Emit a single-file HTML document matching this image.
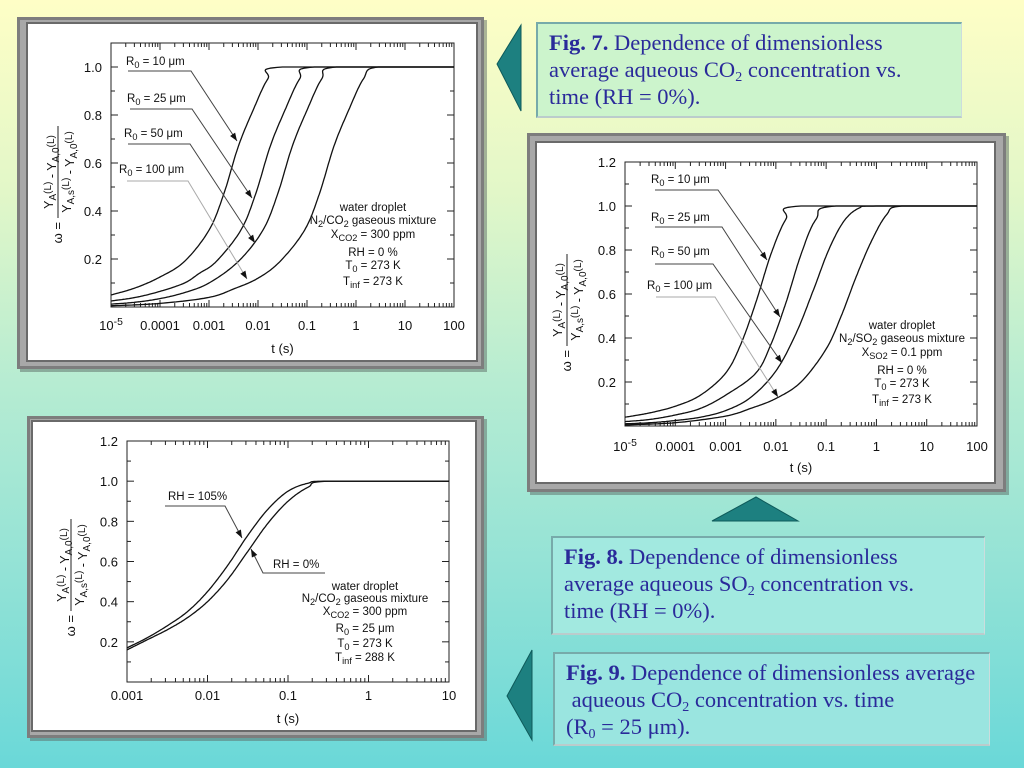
<!DOCTYPE html>
<html><head><meta charset="utf-8">
<style>
html,body{margin:0;padding:0;}
body{width:1024px;height:768px;overflow:hidden;position:relative;
background:linear-gradient(to bottom,#fefec6 0%,#e2f7c8 25%,#b6ecd2 50%,#92e2d6 75%,#6ad8d8 100%);
font-family:"Liberation Sans",sans-serif;}
.box{position:absolute;font-family:"Liberation Serif",serif;font-size:22.5px;line-height:27px;color:#2a2a9a;padding:5px 0 0 11px;box-sizing:border-box;white-space:nowrap;
border-top:2px solid #7aa;border-left:2px solid #7aa;border-right:1px solid #cdd;border-bottom:2px solid #bcc;}
.box b{font-weight:bold;}
sub{font-size:14px;vertical-align:-4px;line-height:0;}
svg{position:absolute;left:0;top:0;}
</style></head>
<body>
<div class="box" style="left:536px;top:22px;width:426px;height:96px;background:#ccf4cc;"><b>Fig. 7.</b> Dependence of dimensionless<br>average aqueous CO<sub>2</sub> concentration vs.<br>time (RH = 0%).</div>
<div class="box" style="left:551px;top:536px;width:434px;height:99px;background:#a2e9e0;"><b>Fig. 8.</b> Dependence of dimensionless<br>average aqueous SO<sub>2</sub> concentration vs.<br>time (RH = 0%).</div>
<div class="box" style="left:553px;top:652px;width:437px;height:94px;background:#9ae5e0;"><b>Fig. 9.</b> Dependence of dimensionless average<br>&nbsp;aqueous CO<sub>2</sub> concentration vs. time<br>(R<sub>0</sub> = 25 μm).</div>

<svg id="s" width="1024" height="768" xmlns="http://www.w3.org/2000/svg">
<polygon points="521,25 521,111 497,64" fill="#1d8080" stroke="#0e5a5a" stroke-width="1"/>
<polygon points="712,521 798,521 756,497" fill="#1d8080" stroke="#0e5a5a" stroke-width="1"/>
<polygon points="532,650 532,740 507,696" fill="#1d8080" stroke="#0e5a5a" stroke-width="1"/>
</svg>

<script>
// ---- Chart 1 data (Fig. 7, CO2) : log10(t) and omega ----
const c1_r10_logt=[-5,-4.5,-4,-3.5,-3,-2.7,-2.4,-2.1,-1.8,-1.5,2];
const c1_r10_val=[0.05,0.08,0.125,0.19,0.32,0.47,0.67,0.82,0.95,1,1];
const c1_r25_logt=[-5,-4.5,-4,-3.5,-3.2,-2.85,-2.35,-2.05,-1.75,-1.45,-1.15,-0.85,2];
const c1_r25_val=[0.025,0.04,0.065,0.1,0.14,0.19,0.32,0.47,0.67,0.82,0.95,1,1];
const c1_r50_logt=[-5,-4.5,-4,-3.5,-3,-2.4,-1.9,-1.6,-1.3,-1,-0.7,-0.4,2];
const c1_r50_val=[0.012,0.02,0.035,0.06,0.1,0.19,0.32,0.47,0.67,0.82,0.95,1,1];
const c1_r100_logt=[-5,-4,-3,-2.5,-2,-1.55,-1.05,-0.75,-0.45,-0.15,0.15,0.45,2];
const c1_r100_val=[0.005,0.015,0.04,0.075,0.12,0.19,0.32,0.47,0.67,0.82,0.95,1,1];
// ---- Chart 2 data (Fig. 8, SO2) ----
const c2_r10_logt=[-5,-4.5,-4,-3.5,-3,-2.7,-2.4,-2.1,-1.8,-1.5,2];
const c2_r10_val=[0.04,0.06,0.09,0.14,0.24,0.37,0.56,0.78,0.94,1,1];
const c2_r25_logt=[-5,-4.5,-4,-3.5,-3,-2.4,-2.1,-1.8,-1.5,-1.2,-0.8,2];
const c2_r25_val=[0.02,0.03,0.05,0.08,0.14,0.24,0.37,0.56,0.78,0.94,1,1];
const c2_r50_logt=[-5,-4.5,-4,-3.5,-3,-2.5,-2,-1.6,-1.25,-0.95,-0.65,-0.35,0,2];
const c2_r50_val=[0.01,0.015,0.025,0.04,0.07,0.13,0.25,0.42,0.62,0.8,0.93,0.99,1,1];
const c2_r100_logt=[-5,-4,-3,-2.5,-2,-1.5,-1,-0.7,-0.4,-0.1,0.2,0.5,2];
const c2_r100_val=[0.005,0.015,0.045,0.08,0.125,0.2,0.35,0.5,0.68,0.84,0.96,1,1];
// ---- Chart 3 data (Fig. 9, RH) ----
const c3_rh105_logt=[-3,-2.75,-2.5,-2.25,-2,-1.75,-1.5,-1.25,-1,-0.75,-0.5,1];
const c3_rh105_val=[0.17,0.22,0.28,0.35,0.45,0.58,0.73,0.86,0.95,0.99,1,1];
const c3_rh0_logt=[-3,-2.75,-2.5,-2.25,-2,-1.75,-1.5,-1.25,-1,-0.75,-0.5,1];
const c3_rh0_val=[0.16,0.21,0.26,0.32,0.40,0.51,0.65,0.79,0.9,0.97,1,1];
// ---- tick labels ----
const c12_xticks=[-5,-4,-3,-2,-1,0,1,2];
const c12_xlabels=["10","0.0001","0.001","0.01","0.1","1","10","100"];
const c3_xticks=[-3,-2,-1,0,1];
const c3_xlabels=["0.001","0.01","0.1","1","10"];
const c1_yticks=[0.2,0.4,0.6,0.8,1.0];
const c23_yticks=[0.2,0.4,0.6,0.8,1.0,1.2];

const S=document.getElementById('s');
const NS='http://www.w3.org/2000/svg';
function mk(tag,attrs,parent){const e=document.createElementNS(NS,tag);for(const k in attrs)e.setAttribute(k,attrs[k]);(parent||S).appendChild(e);return e;}

function smoothPath(xs,ys,sx,sy){
  const n=xs.length;const pts=[];
  const P=i=>[xs[Math.max(0,Math.min(n-1,i))],ys[Math.max(0,Math.min(n-1,i))]];
  let ymax=-1e9;
  for(let i=0;i<n-1;i++){
    const p0=P(i-1),p1=P(i),p2=P(i+1),p3=P(i+2);
    for(let k=0;k<16;k++){const t=k/16,t2=t*t,t3=t2*t;
      const f=(a,b,c,d)=>0.5*((2*b)+(-a+c)*t+(2*a-5*b+4*c-d)*t2+(-a+3*b-3*c+d)*t3);
      const x=f(p0[0],p1[0],p2[0],p3[0]);let y=f(p0[1],p1[1],p2[1],p3[1]);
      y=Math.min(y,1);ymax=Math.max(ymax,y);y=ymax;
      pts.push(sx(x).toFixed(1)+','+sy(y).toFixed(1));}
  }
  pts.push(sx(xs[n-1]).toFixed(1)+','+sy(Math.min(1,Math.max(ymax,ys[n-1]))).toFixed(1));
  return 'M'+pts.join(' L');
}

function frame(name,ox,oy,ow,oh,wx,wy,ww,wh){
  const g=mk('g',{});
  
  
  mk('rect',{x:ox+3,y:oy+3,width:ow,height:oh,fill:'#5c6b66',opacity:0.5},g);
  mk('rect',{x:ox,y:oy,width:ow,height:oh,fill:'#7d7d7d'},g);
  mk('rect',{x:ox+3,y:oy+3,width:ow-6,height:oh-6,fill:'#a8a8a8'},g);
  mk('rect',{x:wx-2,y:wy-2,width:ww+4,height:wh+4,fill:'#6a6a6a'},g);
  mk('rect',{x:wx,y:wy,width:ww,height:wh,fill:'#ffffff'},g);
}

function txt(x,y,s,attrs,parent){const t=mk('text',Object.assign({x:x,y:y,'font-size':13,fill:'#111','font-family':'Liberation Sans, sans-serif'},attrs||{}),parent);t.textContent=s;return t;}

function richText(parent,x,y,parts,anchor,fs){
  const t=mk('text',{x:x,y:y,'font-size':fs||11,fill:'#111','text-anchor':anchor||'middle','font-family':'Liberation Sans, sans-serif'},parent);
  parts.forEach(p=>{const ts=mk('tspan',{},t);
    if(p[1]==='sub'){ts.setAttribute('dy',3);ts.setAttribute('font-size',(fs||11)*0.8);}
    else if(p[1]==='sup'){ts.setAttribute('dy',-5);ts.setAttribute('font-size',(fs||11)*0.8);}
    else if(p[1]==='back'){ts.setAttribute('dy',-3);}
    else if(p[1]==='down'){ts.setAttribute('dy',5);}
    ts.textContent=p[0];});
  return t;
}

function chart(cfg){
  const g=mk('g',{});
  
  
  const sx=l=>cfg.L+(l-cfg.lmin)*(cfg.R-cfg.L)/(cfg.lmax-cfg.lmin);
  const sy=v=>cfg.B-(v-cfg.vmin)*(cfg.B-cfg.T)/(cfg.vmax-cfg.vmin);
  const box=mk('rect',{x:cfg.L,y:cfg.T,width:cfg.R-cfg.L,height:cfg.B-cfg.T,fill:'none',stroke:'#222','stroke-width':1},g);
  
  
  for(let dcd=cfg.lmin;dcd<=cfg.lmax;dcd++){
    const x=sx(dcd);
    mk('line',{x1:x,y1:cfg.B,x2:x,y2:cfg.B-7,stroke:'#222'},g);
    mk('line',{x1:x,y1:cfg.T,x2:x,y2:cfg.T+7,stroke:'#222'},g);
    if(dcd<cfg.lmax)for(let k=2;k<=9;k++){const xm=sx(dcd+Math.log10(k));
      mk('line',{x1:xm,y1:cfg.B,x2:xm,y2:cfg.B-4,stroke:'#222'},g);
      mk('line',{x1:xm,y1:cfg.T,x2:xm,y2:cfg.T+4,stroke:'#222'},g);}
  }
  cfg.xticks.forEach((l,i)=>{
    const lab=cfg.xlabels[i];
    let t;
    if(lab==='10'&&l===-5){t=richText(g,sx(l),cfg.xlabY,[['10',''],['-5','sup']],'middle',13);}
    else t=txt(sx(l),cfg.xlabY,lab,{'text-anchor':'middle'},g);
    
    
  });
  for(let v=cfg.vmin+0.1;v<cfg.vmax+0.001;v+=0.1){
    const y=sy(v);const major=Math.abs(Math.round(v*10)%2)===0;
    const len=major?7:4;
    mk('line',{x1:cfg.L,y1:y,x2:cfg.L+len,y2:y,stroke:'#222'},g);
    mk('line',{x1:cfg.R,y1:y,x2:cfg.R-len,y2:y,stroke:'#222'},g);
  }
  cfg.yticks.forEach(v=>{const t=txt(cfg.L-9,sy(v)+5,v.toFixed(1),{'text-anchor':'end'},g);
    
    });
  const xt=txt((cfg.L+cfg.R)/2,cfg.xtitleY,'t (s)',{'text-anchor':'middle'},g);
  
  
  const yg=mk('g',{transform:'translate('+cfg.ytx+','+cfg.yty+') rotate(-90)'},g);
  
  
  richText(yg,0,-5,[['Y',''],['A','sub'],['(L)','sup'],[' - Y','down'],['A,0','sub'],['(L)','sup']],'middle',12.5);
  mk('line',{x1:-46,y1:0,x2:46,y2:0,stroke:'#222'},yg);
  richText(yg,0,13,[['Y',''],['A,s','sub'],['(L)','sup'],[' - Y','down'],['A,0','sub'],['(L)','sup']],'middle',12.5);
  txt(-50,4,'ω =',{'text-anchor':'end'},yg);
  cfg.series.forEach(s=>{
    const p=mk('path',{d:smoothPath(s.x,s.y,sx,sy),fill:'none',stroke:'#111','stroke-width':1.3,'stroke-linejoin':'round'},g);
    
    
  });
  cfg.ann.forEach(a=>{
    const ag=mk('g',{},g);
    
    
    richText(ag,a.tx,a.ty,a.parts,'start',11.5);
    const col=a.col||'#444';
    mk('polyline',{points:a.line.map(p=>p.join(',')).join(' '),fill:'none',stroke:col,'stroke-width':1},ag);
    const p1=a.line[a.line.length-2],p2=a.line[a.line.length-1];
    const ang=Math.atan2(p2[1]-p1[1],p2[0]-p1[0]);
    const L=8,W=3;
    const bx=p2[0]-L*Math.cos(ang),by=p2[1]-L*Math.sin(ang);
    mk('polygon',{points:[p2,[bx-W*Math.sin(ang),by+W*Math.cos(ang)],[bx+W*Math.sin(ang),by-W*Math.cos(ang)]].map(p=>p.join(',')).join(' '),fill:'#111'},ag);
  });
  const lg=mk('g',{},g);
  
  
  cfg.legend.forEach(l=>richText(lg,cfg.legX,l[0],l[1],'middle',11.5));
}

frame('fig7-chart-frame',17,17,467,352,28,24,448,336);
frame('fig8-chart-frame',527,133,479,359,537,143,457,339);
frame('fig9-chart-frame',27,416,457,322,33,422,442,308);

const R0=n=>[['R',''],['0','sub'],[' = '+n+' μm','back']];
chart({name:'fig7-chart',L:111,R:454,T:43,B:307,lmin:-5,lmax:2,vmin:0,vmax:1.1,
  xticks:c12_xticks,xlabels:c12_xlabels,yticks:c1_yticks,xlabY:330,xtitleY:353,ytx:58,yty:172,
  series:[{name:'series-r0-10um',x:c1_r10_logt,y:c1_r10_val},{name:'series-r0-25um',x:c1_r25_logt,y:c1_r25_val},
          {name:'series-r0-50um',x:c1_r50_logt,y:c1_r50_val},{name:'series-r0-100um',x:c1_r100_logt,y:c1_r100_val}],
  ann:[{name:'label-r0-10um',tx:126,ty:65,parts:R0(10),line:[[128,71],[191,71],[237,141]]},
       {name:'label-r0-25um',tx:127,ty:102,parts:R0(25),line:[[130,109],[192,109],[252,198]]},
       {name:'label-r0-50um',tx:124,ty:137,parts:R0(50),line:[[128,144],[190,144],[255,243]]},
       {name:'label-r0-100um',tx:119,ty:173,parts:R0(100),line:[[127,181],[188,181],[247,279]],col:'#aaa'}],
  legX:373,
  legend:[[211,[['water droplet','']]],[224,[['N',''],['2','sub'],['/CO','back'],['2','sub'],[' gaseous mixture','back']]],
          [238,[['X',''],['CO2','sub'],[' = 300 ppm','back']]],[256,[['RH = 0 %','']]],
          [269,[['T',''],['0','sub'],[' = 273 K','back']]],[285,[['T',''],['inf','sub'],[' = 273 K','back']]]]
});
chart({name:'fig8-chart',L:625,R:977,T:162,B:426,lmin:-5,lmax:2,vmin:0,vmax:1.2,
  xticks:c12_xticks,xlabels:c12_xlabels,yticks:c23_yticks,xlabY:451,xtitleY:472,ytx:567,yty:300,
  series:[{name:'series-r0-10um',x:c2_r10_logt,y:c2_r10_val},{name:'series-r0-25um',x:c2_r25_logt,y:c2_r25_val},
          {name:'series-r0-50um',x:c2_r50_logt,y:c2_r50_val},{name:'series-r0-100um',x:c2_r100_logt,y:c2_r100_val}],
  ann:[{name:'label-r0-10um',tx:651,ty:183,parts:R0(10),line:[[655,190],[718,190],[767,260]]},
       {name:'label-r0-25um',tx:651,ty:221,parts:R0(25),line:[[655,227],[722,227],[780,317]]},
       {name:'label-r0-50um',tx:651,ty:255,parts:R0(50),line:[[655,264],[713,264],[782,363]]},
       {name:'label-r0-100um',tx:647,ty:289,parts:R0(100),line:[[656,297],[715,297],[778,397]],col:'#aaa'}],
  legX:902,
  legend:[[329,[['water droplet','']]],[342,[['N',''],['2','sub'],['/SO','back'],['2','sub'],[' gaseous mixture','back']]],
          [356,[['X',''],['SO2','sub'],[' = 0.1 ppm','back']]],[374,[['RH = 0 %','']]],
          [387,[['T',''],['0','sub'],[' = 273 K','back']]],[403,[['T',''],['inf','sub'],[' = 273 K','back']]]]
});
chart({name:'fig9-chart',L:127,R:449,T:441,B:682,lmin:-3,lmax:1,vmin:0,vmax:1.2,
  xticks:c3_xticks,xlabels:c3_xlabels,yticks:c23_yticks,xlabY:700,xtitleY:723,ytx:71,yty:565,
  series:[{name:'series-rh-105',x:c3_rh105_logt,y:c3_rh105_val},{name:'series-rh-0',x:c3_rh0_logt,y:c3_rh0_val}],
  ann:[{name:'label-rh-105',tx:168,ty:500,parts:[['RH = 105%','']],line:[[165,506],[225,506],[242,538]]},
       {name:'label-rh-0',tx:273,ty:568,parts:[['RH = 0%','']],line:[[325,573],[263,573],[251,549]]}],
  legX:365,
  legend:[[590,[['water droplet','']]],[602,[['N',''],['2','sub'],['/CO','back'],['2','sub'],[' gaseous mixture','back']]],
          [615,[['X',''],['CO2','sub'],[' = 300 ppm','back']]],[632,[['R',''],['0','sub'],[' = 25 μm','back']]],
          [647,[['T',''],['0','sub'],[' = 273 K','back']]],[661,[['T',''],['inf','sub'],[' = 288 K','back']]]]
});
</script>
</body></html>
